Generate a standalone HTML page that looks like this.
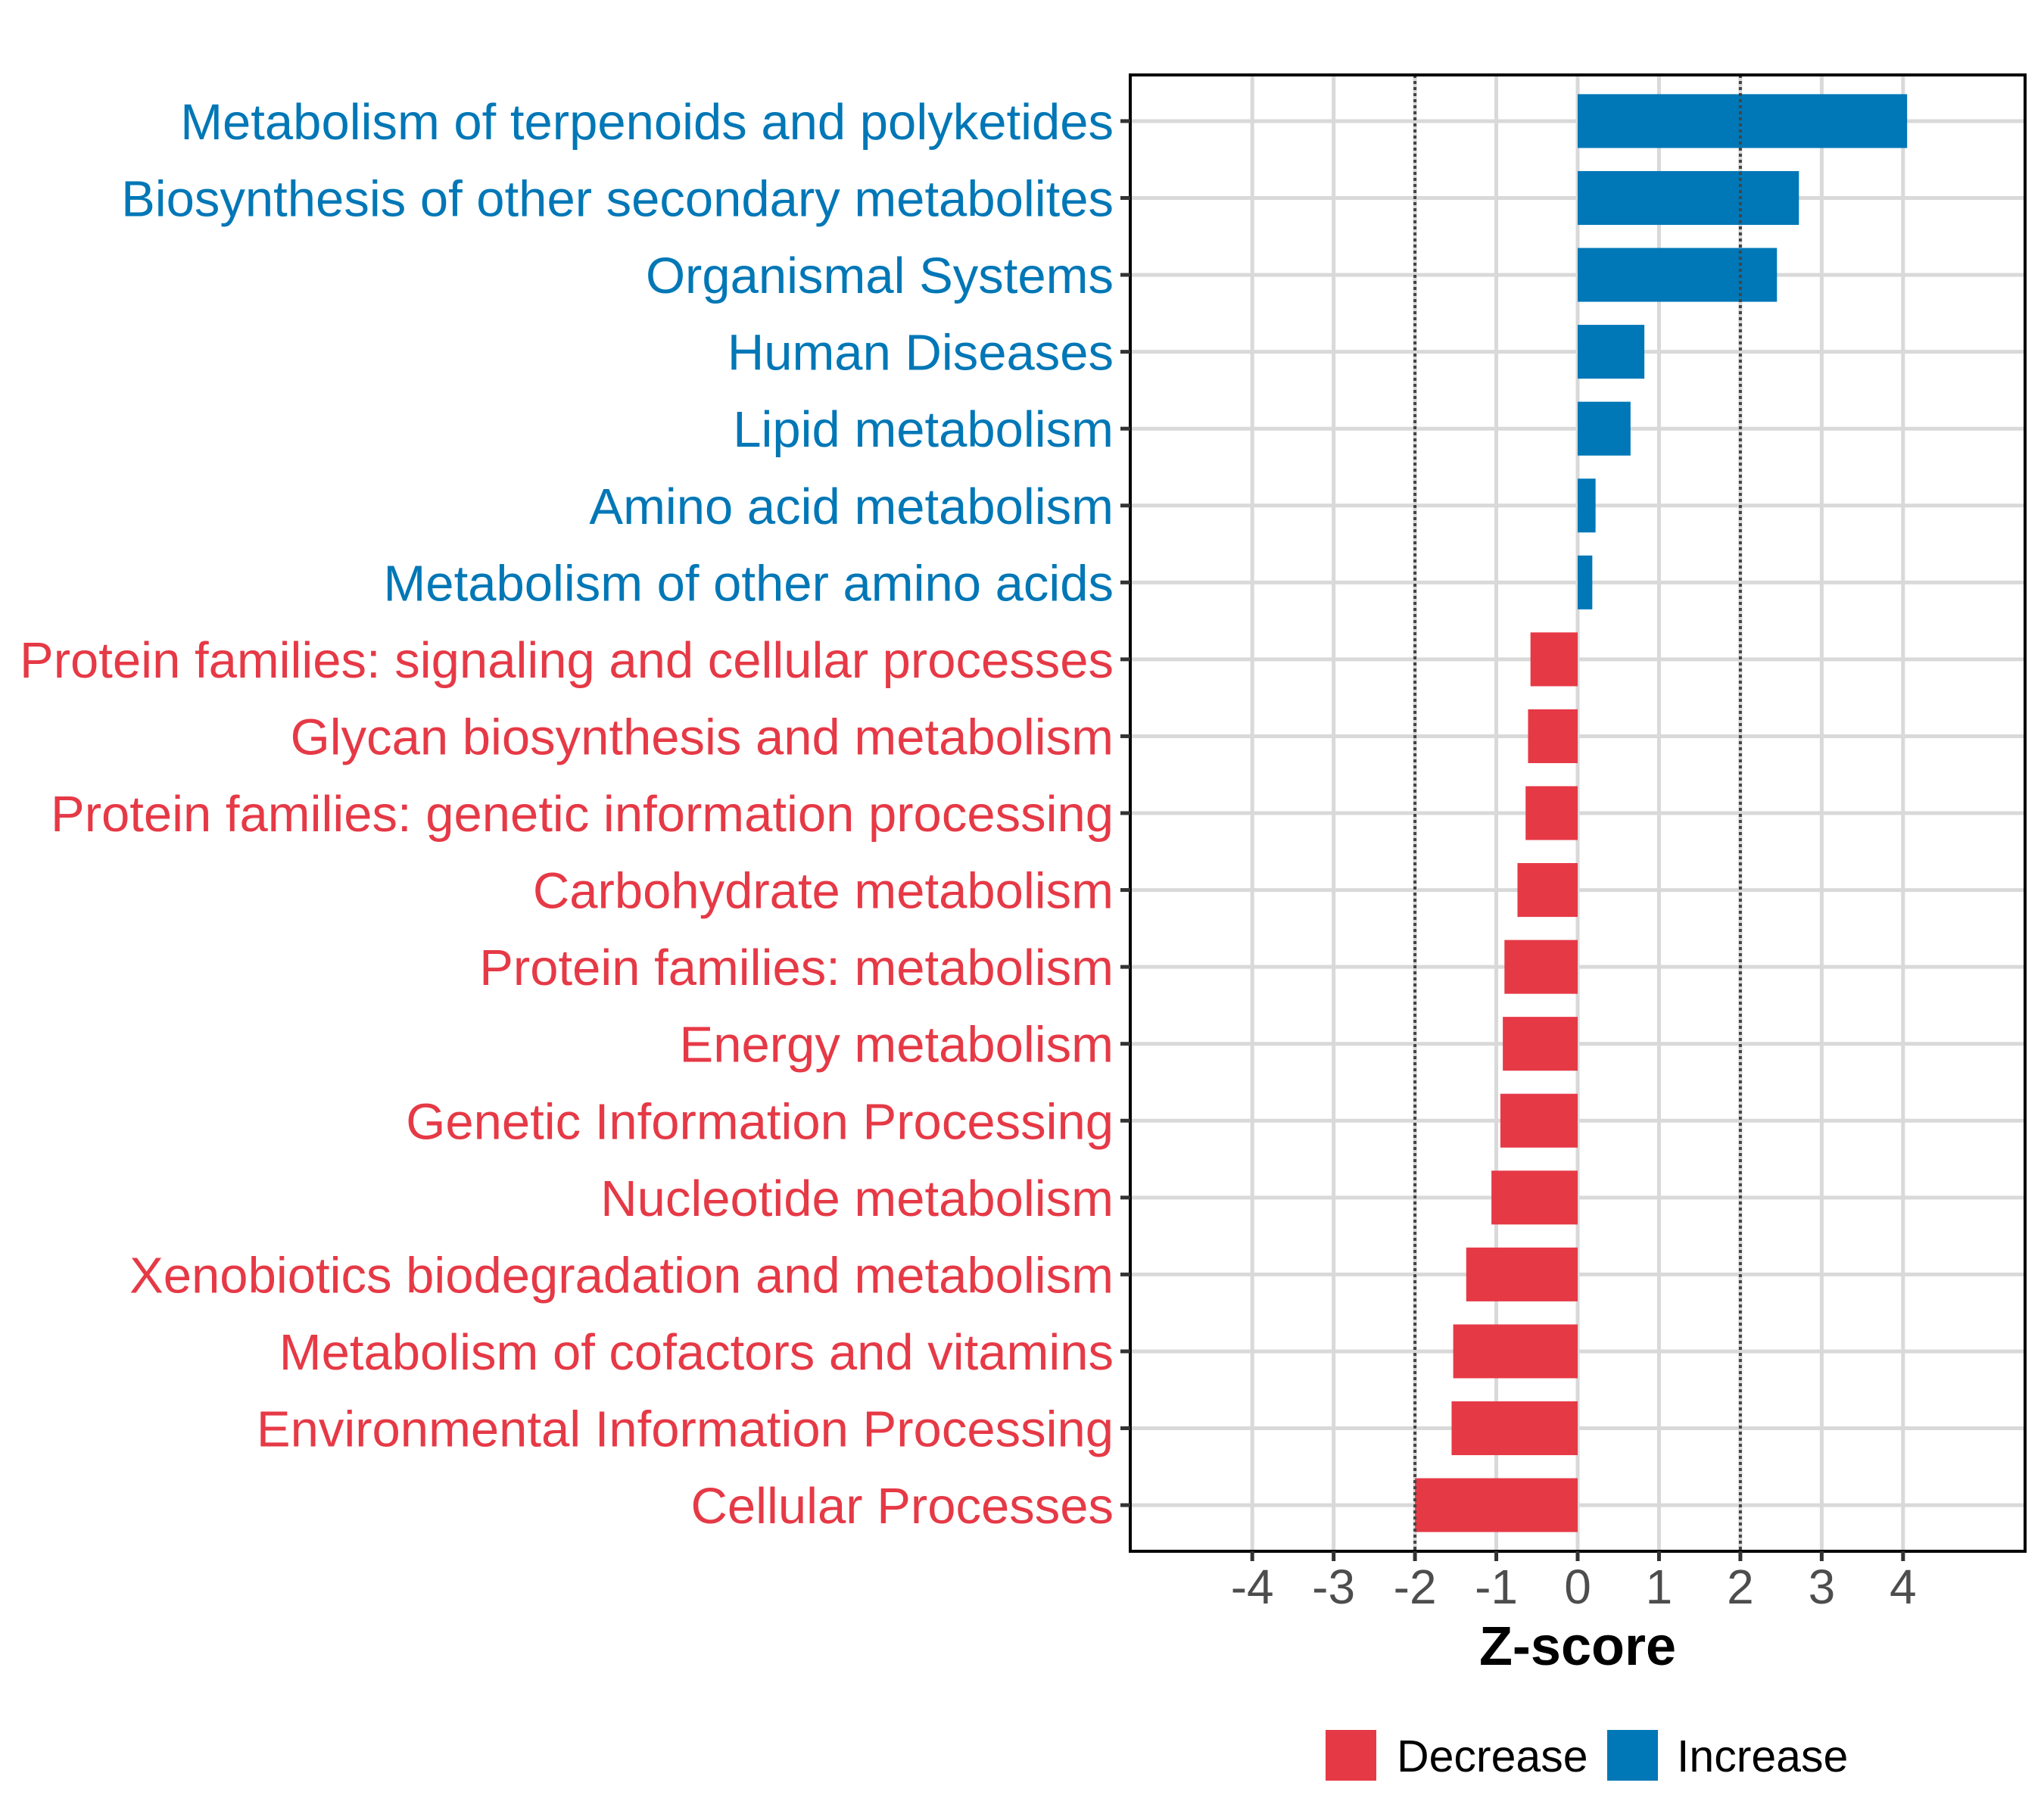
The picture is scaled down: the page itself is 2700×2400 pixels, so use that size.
<!DOCTYPE html>
<html><head><meta charset="utf-8"><style>
html,body{margin:0;padding:0;background:#fff;}
svg{display:block;font-family:"Liberation Sans",Arial,sans-serif;}
</style></head><body>
<svg id="chart" width="2700" height="2400" viewBox="0 0 2700 2400" xmlns="http://www.w3.org/2000/svg">
<rect x="0" y="0" width="2700" height="2400" fill="#fff"/>
<g id="grid"></g>
<g id="bars"></g>
<g id="refs"></g>
<g id="axes"></g>
<g id="labels"></g>
</svg>
<script>
const categories = ["Metabolism of terpenoids and polyketides","Biosynthesis of other secondary metabolites","Organismal Systems","Human Diseases","Lipid metabolism","Amino acid metabolism","Metabolism of other amino acids","Protein families: signaling and cellular processes","Glycan biosynthesis and metabolism","Protein families: genetic information processing","Carbohydrate metabolism","Protein families: metabolism","Energy metabolism","Genetic Information Processing","Nucleotide metabolism","Xenobiotics biodegradation and metabolism","Metabolism of cofactors and vitamins","Environmental Information Processing","Cellular Processes"];
const zscores = [4.05,2.72,2.45,0.82,0.65,0.22,0.18,-0.58,-0.61,-0.64,-0.74,-0.9,-0.92,-0.95,-1.06,-1.37,-1.53,-1.55,-2.0];
const xTicks = [-4,-3,-2,-1,0,1,2,3,4];
const thresholds = [-2,2];
const legendLabels = ["Decrease","Increase"];

const NS="http://www.w3.org/2000/svg";
const P={l:1493,r:2675,t:99,b:2049};
const xmin=-5.5,xmax=5.5;
const RED="#E63946",BLUE="#0077B6";
function x(v){return P.l+(v-xmin)/(xmax-xmin)*(P.r-P.l);}
const step=(P.b-P.t)/(categories.length-1+1.2);
function y(i){return P.t+step*(0.6+i);}
function mk(tag,attrs,parent){const e=document.createElementNS(NS,tag);for(const k in attrs)e.setAttribute(k,attrs[k]);parent.appendChild(e);return e;}
const grid=document.getElementById('grid'),bars=document.getElementById('bars'),refs=document.getElementById('refs'),axes=document.getElementById('axes'),labels=document.getElementById('labels');

xTicks.forEach(t=>{const g=mk('line',{x1:x(t),x2:x(t),y1:P.t,y2:P.b,stroke:'#d9d9d9','stroke-width':5},grid);

});
categories.forEach((c,i)=>{const g=mk('line',{x1:P.l,x2:P.r,y1:y(i),y2:y(i),stroke:'#d9d9d9','stroke-width':5},grid);

});

const bh=step*0.7;
zscores.forEach((v,i)=>{const x0=Math.min(x(0),x(v));const w=Math.abs(x(v)-x(0));
const b=mk('rect',{x:x0,y:y(i)-bh/2,width:w,height:bh,fill:v>=0?BLUE:RED},bars);

});

thresholds.forEach(t=>{const l=mk('line',{x1:x(t),x2:x(t),y1:P.t,y2:P.b,stroke:'#444','stroke-width':4,'stroke-dasharray':'4 4'},refs);

});

const border=mk('rect',{x:P.l,y:P.t,width:P.r-P.l,height:P.b-P.t,fill:'none',stroke:'#000','stroke-width':4},axes);



categories.forEach((c,i)=>{mk('line',{x1:P.l-13,x2:P.l,y1:y(i),y2:y(i),stroke:'#333','stroke-width':5},axes);
const t=mk('text',{x:1471,y:y(i)+24,'text-anchor':'end','font-size':67,fill:zscores[i]>=0?BLUE:RED},labels);
t.textContent=c;

});

xTicks.forEach(tk=>{mk('line',{x1:x(tk),x2:x(tk),y1:P.b,y2:P.b+13,stroke:'#333','stroke-width':5},axes);
const t=mk('text',{x:x(tk),y:2118,'text-anchor':'middle','font-size':64,fill:'#4d4d4d'},labels);
t.textContent=String(tk);

});

const xt=mk('text',{x:x(0),y:2199,'text-anchor':'middle','font-size':72,'font-weight':'bold',fill:'#000'},labels);
xt.textContent='Z-score';



const lx=[1751,2123],tx=[1845,2215],lc=[RED,BLUE];
legendLabels.forEach((s,i)=>{const k=mk('rect',{x:lx[i],y:2285,width:67,height:67,fill:lc[i]},labels);


const t=mk('text',{x:tx[i],y:2340,'font-size':59,fill:'#000'},labels);
t.textContent=s;

});
</script>
</body></html>
